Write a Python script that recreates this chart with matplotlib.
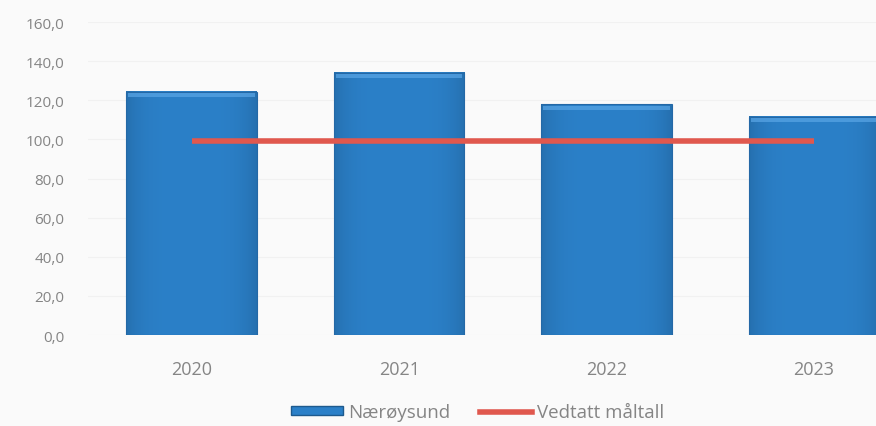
import numpy
from matplotlib import pyplot
from matplotlib.lines import Line2D
from matplotlib.patches import Patch
from matplotlib.ticker import FuncFormatter


years = ['2020', '2021', '2022', '2023']
naroysund = [124.5, 134.0, 118.0, 111.5]
maltall = [99.0, 99.0, 99.0, 99.0]
yticks = [0, 20, 40, 60, 80, 100, 120, 140, 160]

BG = '#fafafa'
TEXT = '#858585'
BAR = '#2b80c8'
LINE = '#e0584e'


def _comma_fmt(x, pos=0):
    return ('%0.1f' % x).replace('.', ',')


def _gradient_bar(ax, x, height, width):
    # horizontal shading: slightly darker edges
    xs = numpy.linspace(-1, 1, 64)
    shade = 1 - 0.12 * xs ** 4
    base = numpy.array([0x2b, 0x80, 0xc8]) / 255.
    row = numpy.clip(base[None, :] * shade[:, None], 0, 1)
    img = numpy.repeat(row[None, :, :], 2, axis=0)
    ax.imshow(img, extent=(x - width / 2, x + width / 2, 0, height),
              aspect='auto', zorder=2, interpolation='bilinear')
    ax.bar(x, height, width, facecolor='none', edgecolor='#2468a6',
           linewidth=0.8, zorder=3)
    # light bevel at the top
    ax.bar(x, 2.0, width * 0.97, bottom=height - 2.8, color='#5aa6e6',
           edgecolor='none', zorder=3, alpha=0.7)


fig = pyplot.figure(figsize=(8.76, 4.27), dpi=100, facecolor=BG)
ax = fig.add_axes([0.1005, 0.213, 0.947, 0.733], facecolor=BG)

x = numpy.arange(len(years))
width = 0.63
for xi, h in zip(x, naroysund):
    _gradient_bar(ax, xi, h, width)

ax.plot(x, maltall, color=LINE, linewidth=4, solid_capstyle='butt', zorder=4)

ax.set_xlim(-0.5, 3.5)
ax.set_ylim(0, 160)
ax.set_yticks(yticks)
ax.yaxis.set_major_formatter(FuncFormatter(_comma_fmt))
ax.set_xticks(x)
ax.set_xticklabels(years)
ax.grid(axis='y', color='#f1f1f1', linewidth=0.8, zorder=0)
ax.set_axisbelow(True)
for s in ax.spines.values():
    s.set_visible(False)
ax.tick_params(axis='both', length=0, colors=TEXT)
ax.tick_params(axis='x', pad=18, labelsize=13)
ax.tick_params(axis='y', pad=17, labelsize=11)
for lbl in ax.get_yticklabels() + ax.get_xticklabels():
    lbl.set_fontfamily('Open Sans')

handles = [Patch(facecolor=BAR, edgecolor='#1d5a8e', label='Nærøysund'),
           Line2D([0], [0], color=LINE, linewidth=4, label='Vedtatt måltall')]
fig.legend(handles=handles, loc='center', bbox_to_anchor=(0.545, 0.032),
           ncol=2, frameon=False, labelcolor=TEXT,
           handlelength=2.8, handleheight=0.4, handletextpad=0.25,
           columnspacing=1.6, prop={'family': 'Open Sans', 'size': 13.5})

fig.savefig('out.png', dpi=100, facecolor=BG)
